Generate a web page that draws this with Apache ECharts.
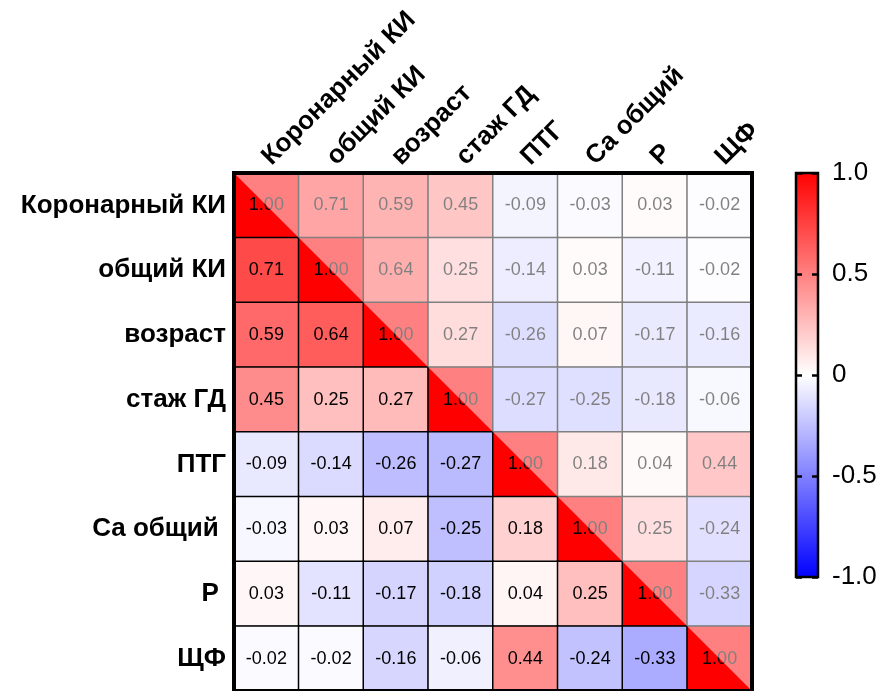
<!DOCTYPE html>
<html><head><meta charset="utf-8">
<script src="https://cdn.jsdelivr.net/npm/echarts@6/dist/echarts.min.js"></script>
<style>html,body{margin:0;padding:0;background:#fff}#c{width:896px;height:691px}</style>
</head><body><div id="c"></div>
<script>
const categories = ['Коронарный КИ', 'общий КИ', 'возраст', 'стаж ГД', 'ПТГ', 'Са общий ', 'Р ', 'ЩФ'];
const rowKorKI   = [1.00, 0.71, 0.59, 0.45, -0.09, -0.03, 0.03, -0.02];
const rowObKI    = [0.71, 1.00, 0.64, 0.25, -0.14, 0.03, -0.11, -0.02];
const rowVozrast = [0.59, 0.64, 1.00, 0.27, -0.26, 0.07, -0.17, -0.16];
const rowStazh   = [0.45, 0.25, 0.27, 1.00, -0.27, -0.25, -0.18, -0.06];
const rowPTG     = [-0.09, -0.14, -0.26, -0.27, 1.00, 0.18, 0.04, 0.44];
const rowCa      = [-0.03, 0.03, 0.07, -0.25, 0.18, 1.00, 0.25, -0.24];
const rowP       = [0.03, -0.11, -0.17, -0.18, 0.04, 0.25, 1.00, -0.33];
const rowShF     = [-0.02, -0.02, -0.16, -0.06, 0.44, -0.24, -0.33, 1.00];
const corrRows = [rowKorKI, rowObKI, rowVozrast, rowStazh, rowPTG, rowCa, rowP, rowShF];
const colorbarMin = -1, colorbarMax = 1, colorbarStep = 0.5;
const scaleColors = ['#0000ff', '#ffffff', '#ff0000'];

const heatData = [];
corrRows.forEach((row, i) => row.forEach((v, j) => heatData.push([j, i, v])));

const FONT = 'Arial, "Liberation Sans", sans-serif';
const chart = echarts.init(document.getElementById('c'), null, {renderer: 'canvas'});
chart.setOption({
  animation: false,
  backgroundColor: '#fff',
  grid: [
    {left: 234, top: 173, width: 518, height: 518, outerBoundsMode: 'none', containLabel: false},
    {left: 796, top: 173, width: 22, height: 404, outerBoundsMode: 'none', containLabel: false}
  ],
  xAxis: [
    {type: 'category', data: categories, position: 'top', gridIndex: 0,
     axisLine: {show: false}, axisTick: {show: false}, splitLine: {show: false},
     axisLabel: {rotate: -45, margin: 12, fontSize: 26, fontWeight: 'bold', color: '#000', fontFamily: FONT, interval: 0}},
    {type: 'category', data: ['cb'], gridIndex: 1, show: false}
  ],
  yAxis: [
    {type: 'category', data: categories, inverse: true, gridIndex: 0,
     axisLine: {show: false}, axisTick: {show: false}, splitLine: {show: false},
     axisLabel: {margin: 8, fontSize: 26, fontWeight: 'bold', color: '#000', fontFamily: FONT, interval: 0}},
    {type: 'value', gridIndex: 1, min: colorbarMin, max: colorbarMax, interval: colorbarStep, position: 'right', z: 10,
     axisLine: {show: false}, splitLine: {show: false},
     axisTick: {show: true, inside: true, length: 6, lineStyle: {color: '#000', width: 2.5}},
     axisLabel: {margin: 14, fontSize: 26, color: '#000', fontFamily: FONT,
       formatter: v => v === 0 ? '0' : v.toFixed(1)}},
    {type: 'value', gridIndex: 1, min: colorbarMin, max: colorbarMax, interval: colorbarStep, position: 'left', z: 10,
     axisLine: {show: false}, splitLine: {show: false},
     axisTick: {show: true, inside: true, length: 6, lineStyle: {color: '#000', width: 2.5}},
     axisLabel: {show: false}}
  ],
  visualMap: {show: false, seriesIndex: 0, min: colorbarMin, max: colorbarMax, dimension: 2,
    inRange: {color: scaleColors}},
  series: [
    {type: 'heatmap', xAxisIndex: 0, yAxisIndex: 0, data: heatData, z: 2,
     itemStyle: {borderColor: '#000', borderWidth: 1.5},
     label: {show: true, fontSize: 18, color: '#000', fontFamily: FONT,
       formatter: p => p.value[2].toFixed(2)},
     emphasis: {disabled: true}},
    {type: 'custom', xAxisIndex: 0, yAxisIndex: 0, z: 10, silent: true,
     data: [[0, 0]],
     renderItem: (params, api) => {
       const n = categories.length;
       const s = api.size([1, 1]);
       const a = api.coord([0, 0]);
       const b = api.coord([n - 1, n - 1]);
       const x0 = a[0] - s[0] / 2, y0 = a[1] - s[1] / 2;
       const x1 = b[0] + s[0] / 2, y1 = b[1] + s[1] / 2;
       return {type: 'group', children: [
         {type: 'polygon', shape: {points: [[x0, y0], [x1, y0], [x1, y1]]},
          style: {fill: 'rgba(255,255,255,0.5)'}},
         {type: 'rect', shape: {x: x0, y: y0, width: x1 - x0, height: y1 - y0},
          style: {fill: 'none', stroke: '#000', lineWidth: 4}}
       ]};
     }},
    {type: 'custom', xAxisIndex: 1, yAxisIndex: 1, z: 5, silent: true,
     data: [[0, colorbarMax]],
     renderItem: (params, api) => {
       const top = api.coord([0, colorbarMax]);
       const bot = api.coord([0, colorbarMin]);
       const w = api.size([1, 0])[0];
       return {type: 'rect', shape: {x: top[0] - w / 2, y: top[1], width: w, height: bot[1] - top[1]},
         style: {fill: new echarts.graphic.LinearGradient(0, 0, 0, 1, [
           {offset: 0, color: scaleColors[2]}, {offset: 0.5, color: scaleColors[1]}, {offset: 1, color: scaleColors[0]}]),
           stroke: '#000', lineWidth: 2.5}};
     }}
  ]
});
</script></body></html>
